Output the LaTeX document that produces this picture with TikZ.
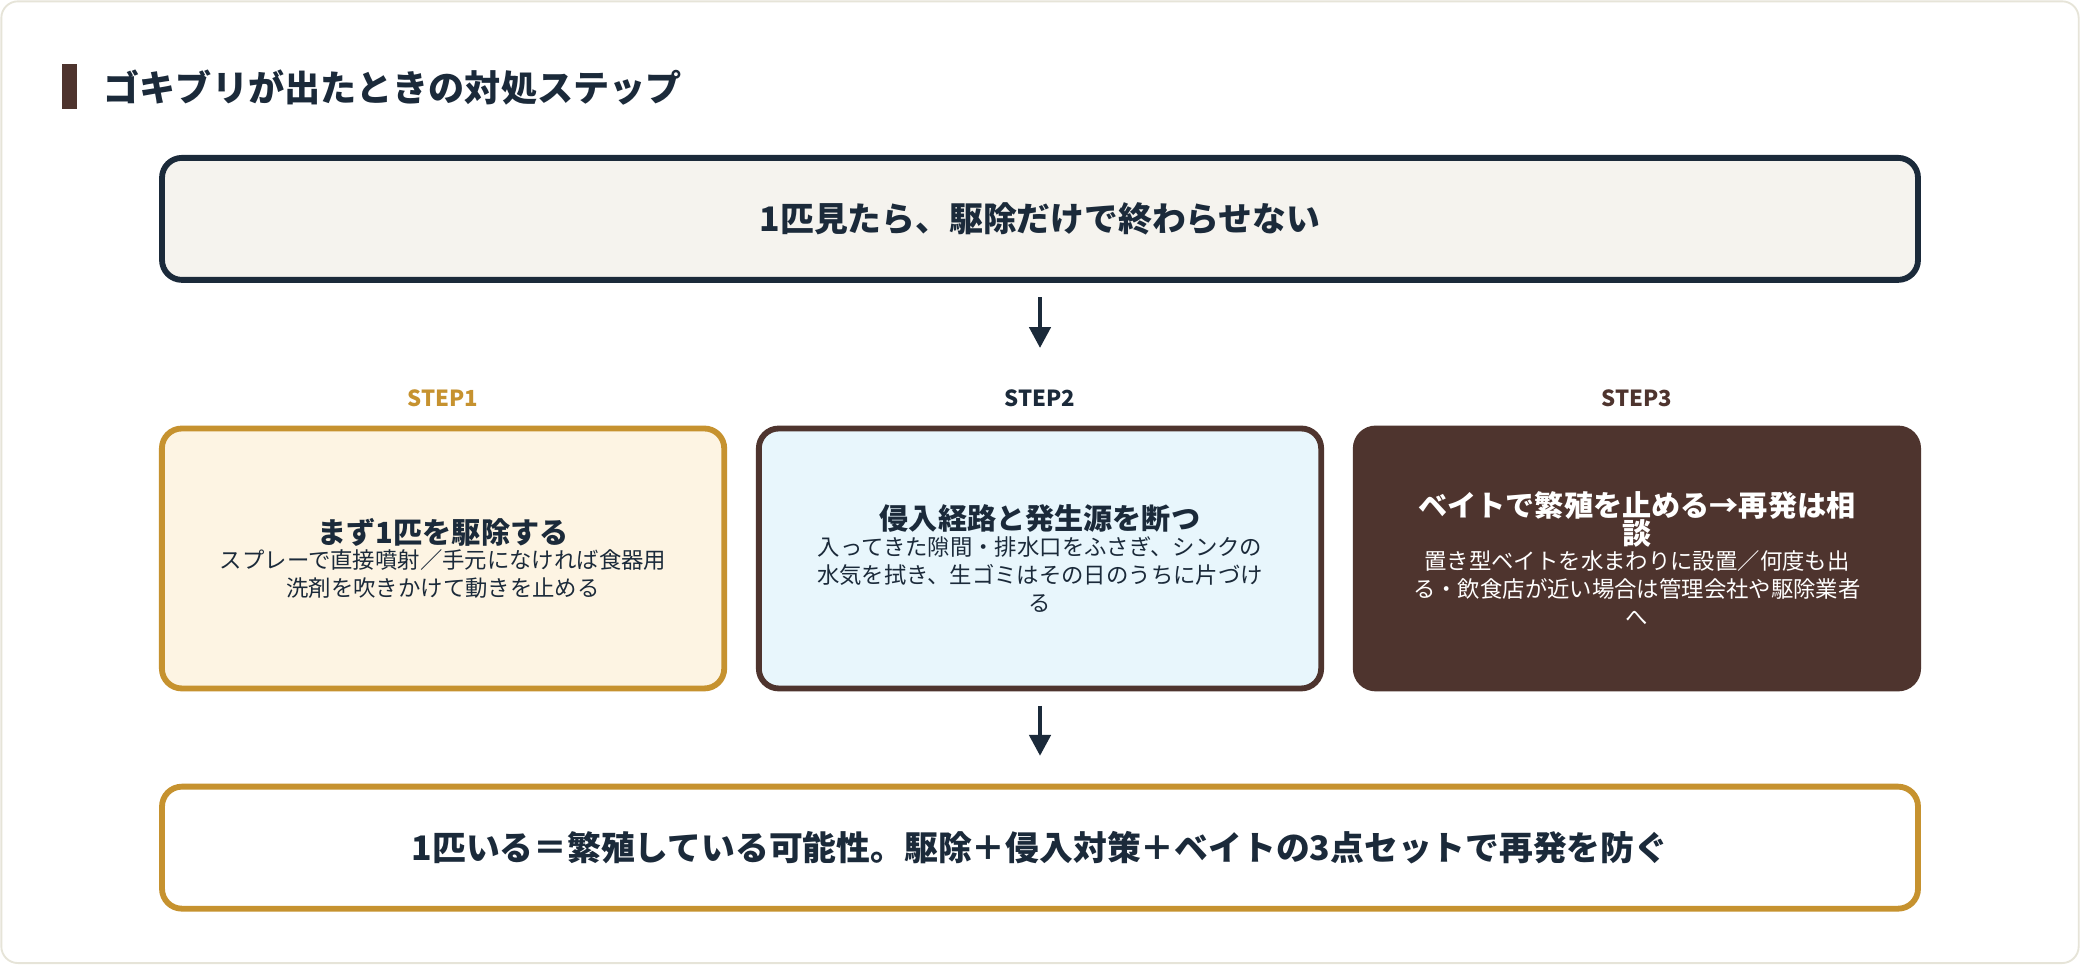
\documentclass[tikz,border=0pt]{standalone}
\usepackage{fontspec}
\setmainfont{Noto Sans CJK JP}
\usetikzlibrary{arrows.meta}
\definecolor{navy}{HTML}{1B2A3A}
\definecolor{gold}{HTML}{C6922F}
\definecolor{brown}{HTML}{4E342E}
\definecolor{paper}{HTML}{F5F3EE}
\definecolor{cream}{HTML}{FDF4E3}
\definecolor{sky}{HTML}{E8F6FC}
\definecolor{frame}{HTML}{E6E4D8}
\tikzset{
  box/.style={rounded corners=0.3cm, line width=2.5pt, align=center, inner sep=0pt},
  wide/.style={box, minimum width=26.48cm, minimum height=1.84cm, font=\fontsize{14.5}{18}\selectfont\bfseries, text=navy},
  stepbox/.style={box, minimum width=8.48cm, minimum height=3.92cm, text=navy},
  steplbl/.style={font=\fontsize{9.5}{11}\selectfont\bfseries},
  flow/.style={-{Triangle[width=9pt,length=9pt]}, line width=2pt, navy}
}
\newcommand{\boxtitle}[1]{{\fontsize{12.5}{17}\selectfont\bfseries #1}}
\newcommand{\boxbody}{\fontsize{9.6}{17}\selectfont}
\begin{document}
\begin{tikzpicture}[x=0.02cm, y=-0.02cm]
\useasboundingbox (0,0) rectangle (1568,727);
\draw[frame, fill=white, rounded corners=0.25cm, line width=0.8pt] (1,1) rectangle (1567,726);

% title
\fill[brown] (47,48) rectangle (58,82);
\node[anchor=west, text=navy, font=\fontsize{15.5}{20}\selectfont\bfseries] (title) at (72,66) {ゴキブリが出たときの対処ステップ};

% top statement
\node[wide, draw=navy, fill=paper] (top) at (784,165) {1匹見たら、駆除だけで終わらせない};

% step labels
\node[steplbl, text=gold] (lbl1) at (334,300) {STEP1};
\node[steplbl, text=navy] (lbl2) at (784,300) {STEP2};
\node[steplbl, text=brown] (lbl3) at (1234,300) {STEP3};

% steps
\node[stepbox, draw=gold, fill=cream] (s1) at (334,421)
  {\boxtitle{まず1匹を駆除する}\\[-1pt]\boxbody スプレーで直接噴射／手元になければ食器用\\\boxbody 洗剤を吹きかけて動きを止める};
\node[stepbox, draw=brown, fill=sky] (s2) at (784,421)
  {\boxtitle{侵入経路と発生源を断つ}\\[-1pt]\boxbody 入ってきた隙間・排水口をふさぎ、シンクの\\\boxbody 水気を拭き、生ゴミはその日のうちに片づけ\\\boxbody る};
\node[stepbox, draw=brown, fill=brown, text=white] (s3) at (1234,421)
  {\boxtitle{ベイトで繁殖を止める→再発は相}\\\boxtitle{談}\\[-1pt]\boxbody 置き型ベイトを水まわりに設置／何度も出\\\boxbody る・飲食店が近い場合は管理会社や駆除業者\\\boxbody へ};

% conclusion
\node[wide, draw=gold, fill=white] (bottom) at (784,639) {1匹いる＝繁殖している可能性。駆除＋侵入対策＋ベイトの3点セットで再発を防ぐ};

\draw[flow, shorten <=0.22cm, shorten >=0.5cm] (top) -- (lbl2);
\draw[flow, shorten <=0.22cm, shorten >=0.42cm] (s2) -- (bottom);
\end{tikzpicture}
\end{document}
